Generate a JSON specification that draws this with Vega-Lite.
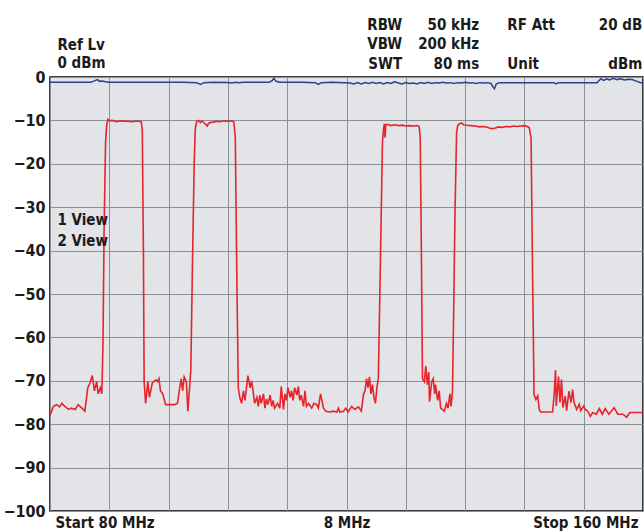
{
  "$schema": "https://vega.github.io/schema/vega-lite/v6.json",
  "width": 593,
  "height": 434,
  "autosize": {"type": "none"},
  "padding": {"left": 50, "top": 77, "right": 1, "bottom": 20},
  "background": "#ffffff",
  "config": {
    "view": {"stroke": "#000000", "strokeWidth": 1.5, "fill": "#e2e4e8"},
    "axis": {"gridColor": "#8b8e92", "gridWidth": 1, "gridOpacity": 1, "domain": false, "ticks": false,
             "labelFont": "Liberation Sans Narrow, DejaVu Sans Condensed, Liberation Sans", "labelFontWeight": "bold", "labelColor": "#1b1b1b"},
    "text": {"font": "Liberation Sans Narrow, DejaVu Sans Condensed, Liberation Sans", "fontWeight": "bold", "fontSize": 15, "color": "#1b1b1b"}
  },
  "datasets": {
    "red": [
      {"f": 80.0, "db": -78.0}, {"f": 80.45, "db": -75.9}, {"f": 80.9, "db": -75.5}, {"f": 81.3, "db": -76.0},
      {"f": 81.6, "db": -75.2}, {"f": 82.0, "db": -75.9}, {"f": 82.5, "db": -76.6}, {"f": 82.9, "db": -76.3},
      {"f": 83.4, "db": -76.6}, {"f": 83.8, "db": -75.5}, {"f": 84.3, "db": -76.3}, {"f": 84.7, "db": -77.0},
      {"f": 85.1, "db": -71.6}, {"f": 85.4, "db": -70.5}, {"f": 85.7, "db": -68.8}, {"f": 86.0, "db": -72.3},
      {"f": 86.3, "db": -70.2}, {"f": 86.5, "db": -73.0}, {"f": 86.8, "db": -71.6}, {"f": 87.0, "db": -73.0},
      {"f": 87.15, "db": -61}, {"f": 87.3, "db": -35}, {"f": 87.5, "db": -15}, {"f": 87.65, "db": -11},
      {"f": 87.8, "db": -9.8}, {"f": 88.0, "db": -10.1}, {"f": 88.4, "db": -10.0}, {"f": 89.0, "db": -10.3},
      {"f": 89.5, "db": -10.1}, {"f": 90.0, "db": -10.2}, {"f": 90.5, "db": -10.2}, {"f": 91.0, "db": -10.3},
      {"f": 91.5, "db": -10.2}, {"f": 92.0, "db": -10.2}, {"f": 92.3, "db": -10.3}, {"f": 92.45, "db": -12},
      {"f": 92.6, "db": -40}, {"f": 92.7, "db": -70.2}, {"f": 92.9, "db": -75.2}, {"f": 93.2, "db": -70.2},
      {"f": 93.4, "db": -73.8}, {"f": 93.8, "db": -70.5}, {"f": 94.3, "db": -69.8}, {"f": 94.5, "db": -70.2},
      {"f": 94.7, "db": -69.5}, {"f": 94.9, "db": -72.3}, {"f": 95.2, "db": -73.0}, {"f": 95.6, "db": -75.5},
      {"f": 96.1, "db": -75.5}, {"f": 96.8, "db": -75.5}, {"f": 97.2, "db": -75.2}, {"f": 97.5, "db": -71.6},
      {"f": 97.7, "db": -69.5}, {"f": 97.9, "db": -72.3}, {"f": 98.1, "db": -69.1}, {"f": 98.4, "db": -70.2},
      {"f": 98.6, "db": -77.0}, {"f": 98.8, "db": -72.3}, {"f": 99.0, "db": -67.4}, {"f": 99.2, "db": -45},
      {"f": 99.45, "db": -20}, {"f": 99.6, "db": -12}, {"f": 99.7, "db": -11}, {"f": 99.8, "db": -10.2},
      {"f": 100.0, "db": -10.0}, {"f": 100.3, "db": -10.5}, {"f": 100.5, "db": -10.1}, {"f": 100.8, "db": -10.6},
      {"f": 101.0, "db": -10.9}, {"f": 101.2, "db": -11.3}, {"f": 101.4, "db": -10.7}, {"f": 101.6, "db": -10.5},
      {"f": 102.0, "db": -10.4}, {"f": 102.5, "db": -10.2}, {"f": 103.0, "db": -10.3}, {"f": 103.5, "db": -10.1},
      {"f": 104.0, "db": -10.2}, {"f": 104.5, "db": -10.1}, {"f": 104.8, "db": -10.3}, {"f": 105.0, "db": -14},
      {"f": 105.2, "db": -45}, {"f": 105.4, "db": -71.6}, {"f": 105.6, "db": -73.8}, {"f": 105.85, "db": -75.2},
      {"f": 106.1, "db": -72.3}, {"f": 106.3, "db": -74.5}, {"f": 106.7, "db": -68.8}, {"f": 107.0, "db": -71.6},
      {"f": 107.2, "db": -70.0}, {"f": 107.4, "db": -72.3}, {"f": 107.6, "db": -75.2}, {"f": 107.9, "db": -73.8},
      {"f": 108.1, "db": -75.9}, {"f": 108.3, "db": -73.3}, {"f": 108.5, "db": -75.2}, {"f": 108.8, "db": -73.0},
      {"f": 109.0, "db": -76.3}, {"f": 109.2, "db": -74.2}, {"f": 109.4, "db": -75.5}, {"f": 109.7, "db": -73.3},
      {"f": 109.9, "db": -75.9}, {"f": 110.1, "db": -74.5}, {"f": 110.3, "db": -76.3}, {"f": 110.7, "db": -75.2},
      {"f": 111.0, "db": -76.3}, {"f": 111.2, "db": -71.3}, {"f": 111.5, "db": -76.6}, {"f": 111.7, "db": -73.0},
      {"f": 111.9, "db": -74.5}, {"f": 112.1, "db": -71.6}, {"f": 112.4, "db": -73.8}, {"f": 112.6, "db": -72.3},
      {"f": 112.8, "db": -74.5}, {"f": 113.0, "db": -71.6}, {"f": 113.3, "db": -73.3}, {"f": 113.5, "db": -71.3},
      {"f": 113.7, "db": -74.5}, {"f": 113.9, "db": -73.3}, {"f": 114.2, "db": -75.9}, {"f": 114.4, "db": -72.3},
      {"f": 114.6, "db": -75.9}, {"f": 114.9, "db": -75.2}, {"f": 115.3, "db": -76.3}, {"f": 115.6, "db": -75.2},
      {"f": 116.0, "db": -75.5}, {"f": 116.2, "db": -76.3}, {"f": 116.5, "db": -73.0}, {"f": 116.9, "db": -76.3},
      {"f": 117.2, "db": -77.0}, {"f": 117.8, "db": -77.2}, {"f": 118.2, "db": -77.0}, {"f": 118.7, "db": -77.2},
      {"f": 118.9, "db": -76.3}, {"f": 119.1, "db": -77.2}, {"f": 119.6, "db": -77.0}, {"f": 119.9, "db": -76.3},
      {"f": 120.2, "db": -77.2}, {"f": 120.7, "db": -75.9}, {"f": 121.1, "db": -76.6}, {"f": 121.6, "db": -76.0},
      {"f": 122.0, "db": -77.0}, {"f": 122.3, "db": -73.0}, {"f": 122.5, "db": -72.3}, {"f": 122.7, "db": -69.5},
      {"f": 122.9, "db": -71.6}, {"f": 123.1, "db": -69.1}, {"f": 123.3, "db": -73.0}, {"f": 123.5, "db": -70.9},
      {"f": 123.7, "db": -73.8}, {"f": 123.9, "db": -75.2}, {"f": 124.1, "db": -71.6}, {"f": 124.3, "db": -69.4},
      {"f": 124.6, "db": -40}, {"f": 124.85, "db": -15}, {"f": 125.0, "db": -12}, {"f": 125.1, "db": -10.8},
      {"f": 125.2, "db": -14}, {"f": 125.3, "db": -11.0}, {"f": 125.5, "db": -10.9}, {"f": 126.0, "db": -11.2},
      {"f": 126.5, "db": -11.0}, {"f": 127.0, "db": -11.2}, {"f": 127.5, "db": -11.1}, {"f": 128.0, "db": -11.3},
      {"f": 128.5, "db": -11.2}, {"f": 129.0, "db": -11.3}, {"f": 129.5, "db": -11.2}, {"f": 129.8, "db": -11.4},
      {"f": 129.95, "db": -14}, {"f": 130.1, "db": -40}, {"f": 130.25, "db": -69.5}, {"f": 130.5, "db": -70.2},
      {"f": 130.7, "db": -66.6}, {"f": 130.9, "db": -70.9}, {"f": 131.1, "db": -68.0}, {"f": 131.2, "db": -74.8},
      {"f": 131.5, "db": -70.2}, {"f": 131.7, "db": -69.5}, {"f": 131.9, "db": -73.0}, {"f": 132.0, "db": -70.9},
      {"f": 132.3, "db": -74.5}, {"f": 132.5, "db": -72.3}, {"f": 132.7, "db": -76.3}, {"f": 133.2, "db": -77.0},
      {"f": 133.5, "db": -75.2}, {"f": 133.7, "db": -76.3}, {"f": 133.95, "db": -73.0}, {"f": 134.1, "db": -75.9},
      {"f": 134.3, "db": -72.3}, {"f": 134.45, "db": -55}, {"f": 134.65, "db": -30}, {"f": 134.85, "db": -13},
      {"f": 135.0, "db": -11.2}, {"f": 135.2, "db": -10.8}, {"f": 135.5, "db": -10.6}, {"f": 135.8, "db": -11.0},
      {"f": 136.2, "db": -11.1}, {"f": 136.8, "db": -11.2}, {"f": 137.3, "db": -11.3}, {"f": 138.0, "db": -11.5},
      {"f": 138.5, "db": -11.4}, {"f": 139.0, "db": -11.6}, {"f": 139.5, "db": -11.9}, {"f": 140.0, "db": -11.8},
      {"f": 140.5, "db": -11.5}, {"f": 141.0, "db": -11.6}, {"f": 141.5, "db": -11.4}, {"f": 142.0, "db": -11.5},
      {"f": 142.5, "db": -11.3}, {"f": 143.0, "db": -11.4}, {"f": 143.5, "db": -11.3}, {"f": 144.0, "db": -11.2},
      {"f": 144.4, "db": -11.4}, {"f": 144.65, "db": -11.7}, {"f": 144.9, "db": -14}, {"f": 145.1, "db": -45},
      {"f": 145.3, "db": -73.1}, {"f": 145.55, "db": -74.3}, {"f": 145.8, "db": -73.5}, {"f": 146.0, "db": -76.6},
      {"f": 146.2, "db": -77.2}, {"f": 146.9, "db": -77.2}, {"f": 147.8, "db": -77.2}, {"f": 148.0, "db": -73.5},
      {"f": 148.2, "db": -67.5}, {"f": 148.3, "db": -75.8}, {"f": 148.6, "db": -69.0}, {"f": 148.8, "db": -75.0},
      {"f": 149.0, "db": -69.7}, {"f": 149.2, "db": -76.2}, {"f": 149.5, "db": -73.5}, {"f": 149.7, "db": -76.9},
      {"f": 150.0, "db": -72.4}, {"f": 150.3, "db": -75.0}, {"f": 150.5, "db": -72.0}, {"f": 150.7, "db": -75.0},
      {"f": 151.05, "db": -76.6}, {"f": 151.4, "db": -75.4}, {"f": 151.6, "db": -76.9}, {"f": 152.0, "db": -75.8},
      {"f": 152.2, "db": -76.6}, {"f": 152.5, "db": -76.9}, {"f": 152.9, "db": -78.2}, {"f": 153.2, "db": -77.3},
      {"f": 153.7, "db": -77.7}, {"f": 154.1, "db": -76.4}, {"f": 154.5, "db": -77.7}, {"f": 154.9, "db": -76.4},
      {"f": 155.4, "db": -77.7}, {"f": 156.1, "db": -76.2}, {"f": 156.6, "db": -77.7}, {"f": 157.3, "db": -77.7},
      {"f": 157.8, "db": -78.4}, {"f": 158.2, "db": -77.3}, {"f": 158.8, "db": -77.3}, {"f": 159.7, "db": -77.3},
      {"f": 160.0, "db": -77.3}
    ],
    "blue": [
      {"f": 80, "db": -1.2}, {"f": 82, "db": -1.2}, {"f": 84, "db": -1.2}, {"f": 85.5, "db": -1.2},
      {"f": 86.0, "db": -0.9}, {"f": 86.4, "db": -0.6}, {"f": 86.7, "db": -1.0}, {"f": 87.0, "db": -0.9},
      {"f": 87.5, "db": -1.1}, {"f": 88, "db": -1.2}, {"f": 90, "db": -1.2}, {"f": 92, "db": -1.2},
      {"f": 94, "db": -1.2}, {"f": 96, "db": -1.2}, {"f": 98, "db": -1.2}, {"f": 99.8, "db": -1.3},
      {"f": 100.3, "db": -1.7}, {"f": 100.8, "db": -1.3}, {"f": 102, "db": -1.2}, {"f": 104, "db": -1.25},
      {"f": 104.5, "db": -1.4}, {"f": 105, "db": -1.2}, {"f": 105.5, "db": -1.35}, {"f": 106, "db": -1.2},
      {"f": 108, "db": -1.2}, {"f": 109.6, "db": -1.2}, {"f": 110.0, "db": -0.8}, {"f": 110.2, "db": -0.3},
      {"f": 110.5, "db": -1.0}, {"f": 111, "db": -1.2}, {"f": 114, "db": -1.2}, {"f": 115.8, "db": -1.3},
      {"f": 116.2, "db": -1.7}, {"f": 116.6, "db": -1.3}, {"f": 118, "db": -1.2}, {"f": 119.7, "db": -1.3},
      {"f": 120.5, "db": -1.4}, {"f": 121, "db": -1.6}, {"f": 121.5, "db": -1.3}, {"f": 122, "db": -1.6},
      {"f": 122.5, "db": -1.3}, {"f": 123, "db": -1.5}, {"f": 123.5, "db": -1.2}, {"f": 124, "db": -1.5},
      {"f": 124.5, "db": -1.3}, {"f": 125, "db": -1.6}, {"f": 125.5, "db": -1.3}, {"f": 126, "db": -1.5},
      {"f": 126.5, "db": -1.1}, {"f": 127, "db": -1.4}, {"f": 127.5, "db": -1.6}, {"f": 128, "db": -1.3},
      {"f": 128.5, "db": -1.5}, {"f": 129, "db": -1.4}, {"f": 129.5, "db": -1.6}, {"f": 130, "db": -1.3},
      {"f": 130.5, "db": -1.5}, {"f": 131, "db": -1.2}, {"f": 131.5, "db": -1.5}, {"f": 132, "db": -1.3},
      {"f": 132.5, "db": -1.4}, {"f": 133, "db": -1.2}, {"f": 133.5, "db": -1.4}, {"f": 134, "db": -1.3},
      {"f": 134.5, "db": -1.5}, {"f": 135, "db": -1.3}, {"f": 135.5, "db": -1.4}, {"f": 136, "db": -1.2},
      {"f": 136.5, "db": -1.4}, {"f": 137, "db": -1.3}, {"f": 137.5, "db": -1.5}, {"f": 138, "db": -1.3},
      {"f": 138.5, "db": -1.4}, {"f": 139, "db": -1.3}, {"f": 139.5, "db": -1.5}, {"f": 139.8, "db": -2.4},
      {"f": 139.95, "db": -2.7}, {"f": 140.2, "db": -1.6}, {"f": 140.6, "db": -1.3}, {"f": 142, "db": -1.3},
      {"f": 144, "db": -1.3}, {"f": 146, "db": -1.3}, {"f": 148, "db": -1.3}, {"f": 148.3, "db": -1.6},
      {"f": 148.6, "db": -1.3}, {"f": 150, "db": -1.3}, {"f": 152, "db": -1.3}, {"f": 153.8, "db": -1.3},
      {"f": 154.3, "db": -0.4}, {"f": 154.7, "db": -0.8}, {"f": 155.1, "db": -0.4}, {"f": 155.5, "db": -0.7},
      {"f": 156, "db": -0.3}, {"f": 156.5, "db": -0.6}, {"f": 157, "db": -0.4}, {"f": 157.5, "db": -0.7},
      {"f": 158, "db": -0.5}, {"f": 158.5, "db": -0.6}, {"f": 159, "db": -0.9}, {"f": 159.7, "db": -1.3},
      {"f": 160, "db": -1.3}
    ],
    "headerLeft": [
      {"label": "Ref Lv", "f": 81.0, "db": 6.3},
      {"label": "0 dBm", "f": 81.0, "db": 2.1},
      {"label": "RF Att", "f": 141.7, "db": 10.8},
      {"label": "Unit", "f": 141.7, "db": 1.8},
      {"label": "1 View", "f": 81.0, "db": -34.2},
      {"label": "2 View", "f": 81.0, "db": -39.0}
    ],
    "headerRight": [
      {"label": "RBW", "f": 127.5, "db": 10.8},
      {"label": "VBW", "f": 127.5, "db": 6.4},
      {"label": "SWT", "f": 127.5, "db": 1.8},
      {"label": "50 kHz", "f": 137.9, "db": 10.8},
      {"label": "200 kHz", "f": 137.9, "db": 6.4},
      {"label": "80 ms", "f": 137.9, "db": 1.8},
      {"label": "20 dB", "f": 159.9, "db": 10.8},
      {"label": "dBm", "f": 159.9, "db": 1.8}
    ]
  },
  "layer": [
    {
      "data": {"name": "red"},
      "mark": {"type": "line", "color": "#e5252b", "strokeWidth": 1.6, "clip": true},
      "encoding": {
        "x": {"field": "f", "type": "quantitative",
              "scale": {"domain": [80, 160], "nice": false, "zero": false},
              "axis": {"title": null, "values": [80, 88, 96, 104, 112, 120, 128, 136, 144, 152, 160], "grid": true,
                       "labelExpr": "datum.value == 80 ? 'Start 80 MHz' : datum.value == 120 ? '8 MHz' : datum.value == 160 ? 'Stop 160 MHz' : ''",
                       "labelFlush": true, "labelFlushOffset": -5, "labelOverlap": false, "labelFontSize": 15, "labelPadding": 4, "labelBaseline": "top"}},
        "y": {"field": "db", "type": "quantitative",
              "scale": {"domain": [-100, 0], "nice": false, "zero": false},
              "axis": {"title": null, "values": [0, -10, -20, -30, -40, -50, -60, -70, -80, -90, -100], "grid": true,
                       "labelFontSize": 16, "labelPadding": 5, "labelOverlap": false}}
      }
    },
    {
      "data": {"name": "blue"},
      "mark": {"type": "line", "color": "#2b3f93", "strokeWidth": 1.5, "clip": true},
      "encoding": {
        "x": {"field": "f", "type": "quantitative"},
        "y": {"field": "db", "type": "quantitative"}
      }
    },
    {
      "data": {"name": "headerLeft"},
      "mark": {"type": "text", "align": "left", "baseline": "alphabetic", "clip": false},
      "encoding": {
        "x": {"field": "f", "type": "quantitative"},
        "y": {"field": "db", "type": "quantitative"},
        "text": {"field": "label"}
      }
    },
    {
      "data": {"name": "headerRight"},
      "mark": {"type": "text", "align": "right", "baseline": "alphabetic", "clip": false},
      "encoding": {
        "x": {"field": "f", "type": "quantitative"},
        "y": {"field": "db", "type": "quantitative"},
        "text": {"field": "label"}
      }
    }
  ]
}
